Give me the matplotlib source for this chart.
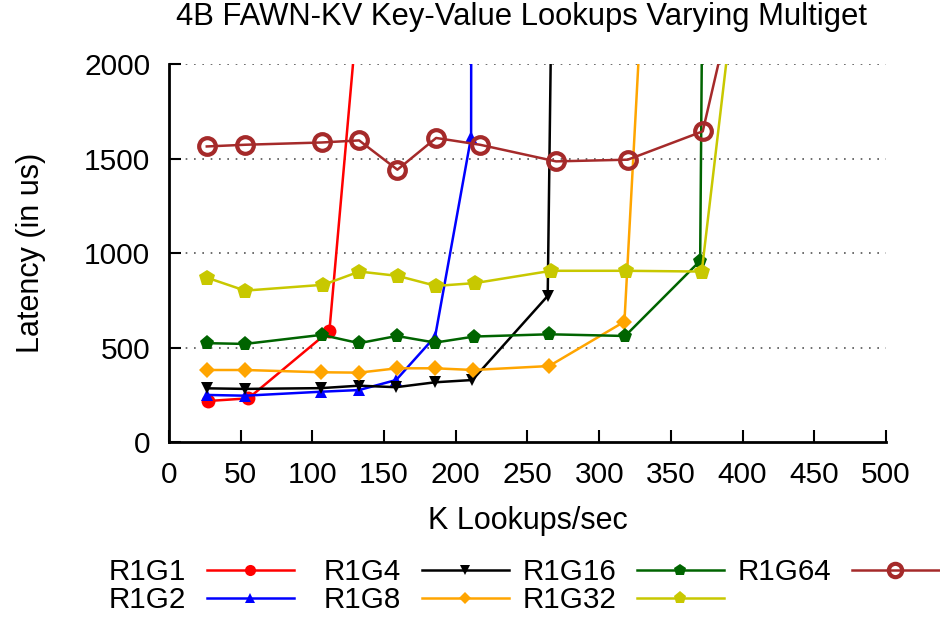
import matplotlib
matplotlib.use("Agg")
import matplotlib.pyplot as plt

plt.rcParams['font.family'] = ['Liberation Sans', 'DejaVu Sans']

title = "4B FAWN-KV Key-Value Lookups Varying Multiget"
xlabel = "K Lookups/sec"
ylabel = "Latency (in us)"
xticks = [0, 50, 100, 150, 200, 250, 300, 350, 400, 450, 500]
yticks = [0, 500, 1000, 1500, 2000]

labels = ["R1G1", "R1G2", "R1G4", "R1G8", "R1G16", "R1G32", "R1G64"]

r1g1_x = [27.4, 55.4, 111.9, 140.0]
r1g1_y = [217, 231, 588, 3000]
r1g2_x = [26.4, 53.1, 106.0, 132.6, 158.4, 185.6, 210.7, 211.0]
r1g2_y = [249, 245, 266, 275, 328, 558, 1614, 4000]
r1g4_x = [26.4, 53.1, 106.0, 132.6, 158.4, 185.6, 211.6, 264.1, 269.5]
r1g4_y = [284, 281, 285, 298, 290, 316, 328, 773, 4000]
r1g8_x = [26.4, 53.1, 106.0, 132.6, 158.9, 185.6, 212.3, 265.1, 317.6, 334.4]
r1g8_y = [381, 381, 369, 367, 390, 390, 381, 402, 637, 3000]
r1g16_x = [26.4, 53.1, 106.5, 132.6, 158.9, 185.6, 212.8, 265.1, 318.1, 370.4, 373.6]
r1g16_y = [523, 519, 567, 523, 561, 526, 558, 570, 561, 959, 4000]
r1g32_x = [26.4, 53.1, 107.7, 132.8, 159.5, 186.3, 213.5, 266.5, 318.8, 371.5, 400.9]
r1g32_y = [870, 801, 832, 902, 879, 826, 841, 906, 906, 902, 2800]
r1g64_x = [26.4, 53.1, 106.5, 132.6, 159.3, 186.3, 216.9, 269.9, 319.9, 372.2, 395.3]
r1g64_y = [1564, 1573, 1585, 1596, 1441, 1609, 1573, 1485, 1494, 1644, 2400]

series_x = [r1g1_x, r1g2_x, r1g4_x, r1g8_x, r1g16_x, r1g32_x, r1g64_x]
series_y = [r1g1_y, r1g2_y, r1g4_y, r1g8_y, r1g16_y, r1g32_y, r1g64_y]

colors = ["#ff0000", "#0000ff", "#000000", "#ffa500", "#006400", "#c8c800", "#a52a2a"]
markers = ["o", "^", "v", "D", "p", "p", "o"]
msizes = [10, 9, 9, 8, 11, 12, 12]

fig = plt.figure(figsize=(9.4, 6.22), dpi=100)
ax = fig.add_axes([0.1797, 0.2894, 0.7629, 0.6076])

handles = []
for i in range(7):
    if i == 6:
        h, = ax.plot(series_x[i], series_y[i], color=colors[i], lw=1.8,
                     marker=markers[i], ms=msizes[i], mfc='none',
                     mec=colors[i], mew=3)
    else:
        h, = ax.plot(series_x[i], series_y[i], color=colors[i], lw=1.8,
                     marker=markers[i], ms=msizes[i], mfc=colors[i],
                     mec=colors[i], mew=0)
    handles.append(h)

ax.set_xlim(0, 500)
ax.set_ylim(0, 2000)
ax.set_xticks(xticks)
ax.set_yticks(yticks)
ax.tick_params(direction='in', length=8.5, width=1.5, labelsize=21.5, pad=14)
ax.tick_params(axis='y', pad=13.5)
for s in ['top', 'right']:
    ax.spines[s].set_visible(False)
for s in ['left', 'bottom']:
    ax.spines[s].set_linewidth(2)
for yv in yticks[1:]:
    ax.axhline(yv, color='#555555', lw=1.2, ls=(0, (1, 4)), zorder=0)

ax.set_title(title, fontsize=22.3, pad=28, x=0.492)
ax.set_xlabel(xlabel, fontsize=22, labelpad=12)
ax.set_ylabel(ylabel, fontsize=22, labelpad=27)

# one legend per column so the columns sit where the reference puts them
col_groups = [[0, 1], [2, 3], [4, 5], [6]]
col_right = [294, 509, 724, 939]
for grp, xr in zip(col_groups, col_right):
    fig.legend([handles[k] for k in grp], [labels[k] for k in grp], ncol=1,
               loc='upper right', bbox_to_anchor=(xr / 940, 1 - 558 / 622),
               frameon=False, markerfirst=False, fontsize=21.3, handlelength=2.95,
               labelspacing=0.0, handletextpad=0.7, markerscale=0.8,
               borderpad=0, borderaxespad=0)

fig.savefig("out.png", dpi=100)
